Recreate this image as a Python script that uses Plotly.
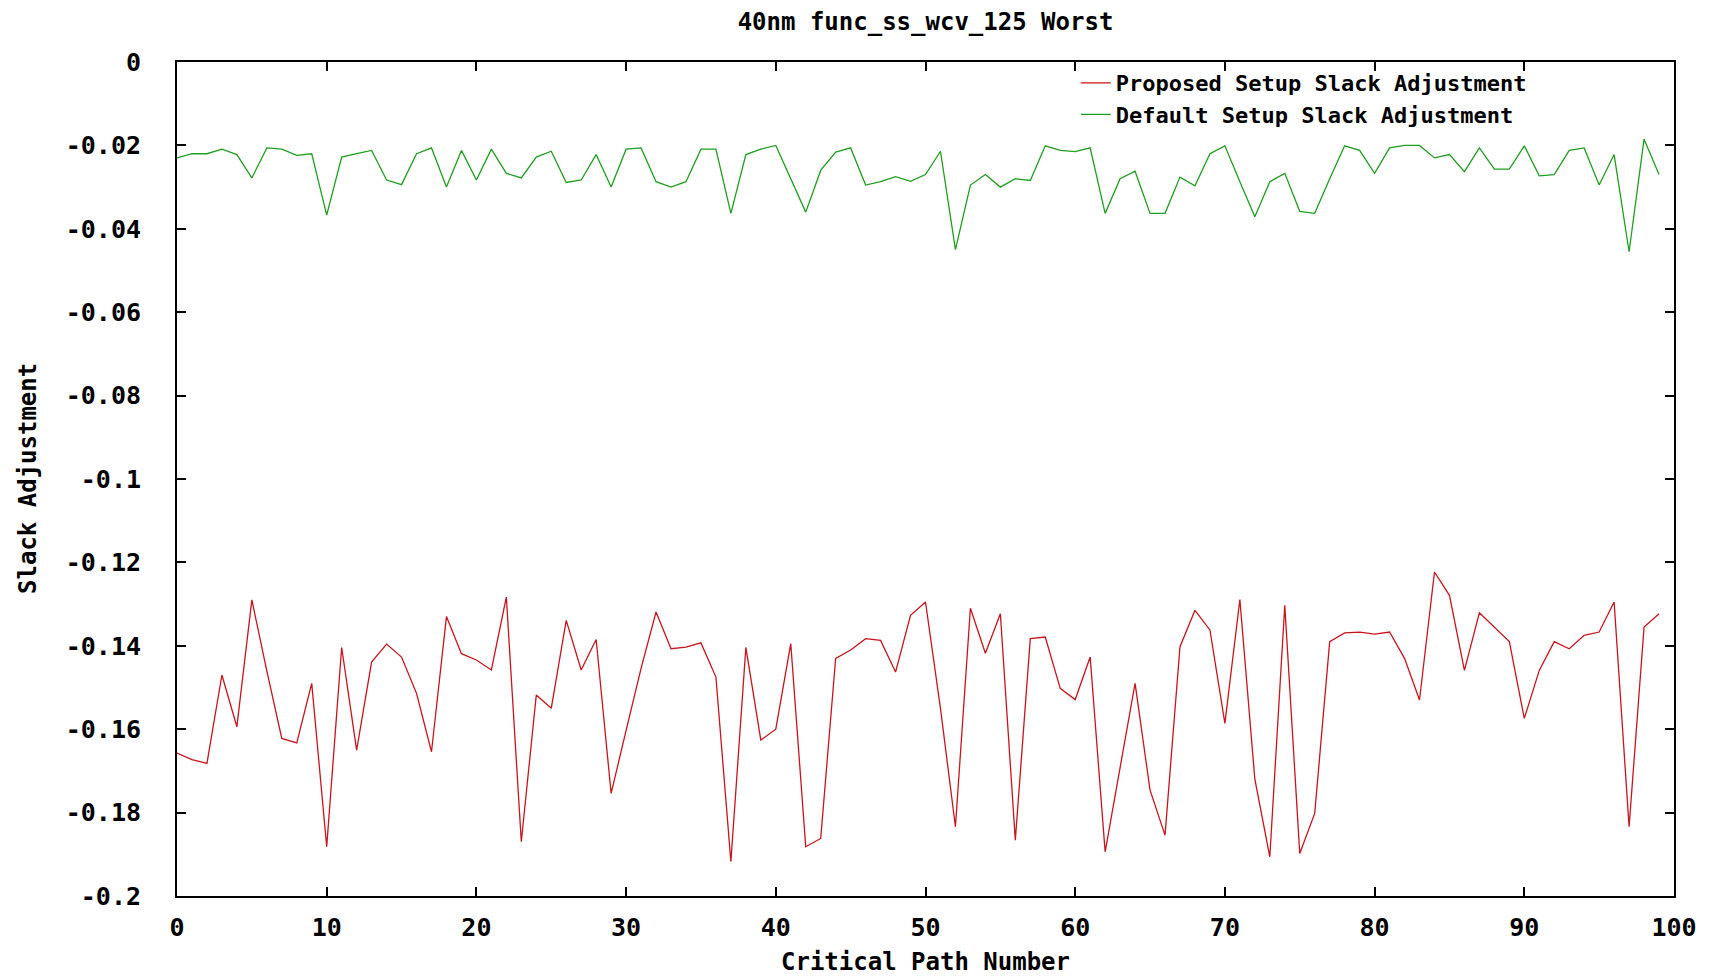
import plotly.graph_objects as go

# ---- data ----
path_number = list(range(100))

proposed = [
    -0.1657, -0.1673, -0.1682, -0.1470, -0.1594, -0.1290, -0.1460, -0.1622, -0.1633, -0.1490,
    -0.1882, -0.1404, -0.1650, -0.1439, -0.1396, -0.1427, -0.1514, -0.1654, -0.1330, -0.1419,
    -0.1434, -0.1458, -0.1283, -0.1870, -0.1518, -0.1550, -0.1339, -0.1458, -0.1385, -0.1754,
    -0.1603, -0.1454, -0.1319, -0.1407, -0.1403, -0.1393, -0.1475, -0.1918, -0.1404, -0.1626,
    -0.1600, -0.1395, -0.1882, -0.1862, -0.1430, -0.1410, -0.1383, -0.1387, -0.1463, -0.1327,
    -0.1295, -0.1550, -0.1834, -0.1310, -0.1418, -0.1323, -0.1866, -0.1383, -0.1379, -0.1502,
    -0.1529, -0.1427, -0.1894, -0.1690, -0.1490, -0.1746, -0.1854, -0.1402, -0.1315, -0.1362,
    -0.1586, -0.1289, -0.1720, -0.1906, -0.1303, -0.1898, -0.1802, -0.1390, -0.1369, -0.1367,
    -0.1372, -0.1367, -0.1430, -0.1530, -0.1223, -0.1279, -0.1459, -0.1321, -0.1355, -0.1390,
    -0.1574, -0.1459, -0.1390, -0.1407, -0.1375, -0.1367, -0.1295, -0.1834, -0.1355, -0.1323,
]

default = [
    -0.0230, -0.0220, -0.0220, -0.0209, -0.0222, -0.0278, -0.0206, -0.0209, -0.0224, -0.0220,
    -0.0367, -0.0228, -0.0220, -0.0212, -0.0283, -0.0294, -0.0220, -0.0206, -0.0300, -0.0212,
    -0.0283, -0.0209, -0.0267, -0.0278, -0.0228, -0.0214, -0.0289, -0.0283, -0.0222, -0.0300,
    -0.0209, -0.0206, -0.0287, -0.0300, -0.0287, -0.0209, -0.0209, -0.0363, -0.0222, -0.0209,
    -0.0200, -0.0280, -0.0360, -0.0260, -0.0216, -0.0206, -0.0295, -0.0287, -0.0275, -0.0286,
    -0.0270, -0.0214, -0.0450, -0.0295, -0.0270, -0.0300, -0.0280, -0.0284, -0.0201, -0.0212,
    -0.0215, -0.0206, -0.0363, -0.0280, -0.0262, -0.0363, -0.0363, -0.0276, -0.0297, -0.0220,
    -0.0201, -0.0287, -0.0371, -0.0287, -0.0267, -0.0358, -0.0363, -0.0280, -0.0201, -0.0212,
    -0.0267, -0.0206, -0.0200, -0.0200, -0.0230, -0.0222, -0.0263, -0.0206, -0.0257, -0.0257,
    -0.0201, -0.0273, -0.0270, -0.0212, -0.0206, -0.0295, -0.0222, -0.0455, -0.0185, -0.0270,
]

x_ticks = [0, 10, 20, 30, 40, 50, 60, 70, 80, 90, 100]
y_ticks = [0, -0.02, -0.04, -0.06, -0.08, -0.1, -0.12, -0.14, -0.16, -0.18, -0.2]
y_tick_labels = ["0", "-0.02", "-0.04", "-0.06", "-0.08", "-0.1",
                 "-0.12", "-0.14", "-0.16", "-0.18", "-0.2"]

title_text = "40nm func_ss_wcv_125 Worst"
x_title = "Critical Path Number"
y_title = "Slack Adjustment"
name_proposed = "Proposed Setup Slack Adjustment"
name_default = "Default Setup Slack Adjustment"

# ---- figure (page body has an 8px margin, so the figure is sized to fit) ----
W, H = 1714, 970
ML, MR, MT, MB = 169, 48, 54, 82
font = dict(family="DejaVu Sans Mono", size=25, color="black", weight="bold")
title_font = dict(family="DejaVu Sans Mono", size=24, color="black", weight="bold")
legend_font = dict(family="DejaVu Sans Mono", size=22, color="black", weight="bold")

fig = go.Figure()
fig.add_trace(go.Scatter(x=path_number, y=proposed, mode="lines", name=name_proposed,
                         line=dict(color="#c8141c", width=1.3)))
fig.add_trace(go.Scatter(x=path_number, y=default, mode="lines", name=name_default,
                         line=dict(color="#1f9e1f", width=1.3)))

fig.update_layout(
    width=W, height=H,
    margin=dict(l=ML, r=MR, t=MT, b=MB),
    paper_bgcolor="white", plot_bgcolor="white",
    font=font,
    title=dict(text=title_text, x=0.5, xref="paper", xanchor="center",
               y=1 - 14 / H, yref="container", yanchor="middle", font=title_font),
    showlegend=True,
    legend=dict(x=0.905, xanchor="right", y=1.0, yanchor="top",
                bgcolor="rgba(0,0,0,0)", font=legend_font),
    annotations=[
        dict(text=x_title, xref="paper", yref="paper", x=0.5, y=0,
             xanchor="center", yanchor="middle", yshift=-66, showarrow=False,
             font=title_font),
        dict(text=y_title, xref="paper", yref="paper", x=0, y=0.5,
             xanchor="center", yanchor="middle", xshift=-149, textangle=-90,
             showarrow=False, font=title_font),
    ],
)

axis_common = dict(ticks="inside", ticklen=9, tickwidth=1.5, tickcolor="black",
                   showline=True, linecolor="black", linewidth=2, mirror="allticks",
                   showgrid=False, zeroline=False, tickfont=font)
fig.update_xaxes(range=[0, 100], tickvals=x_ticks, ticklabelstandoff=8, **axis_common)
fig.update_yaxes(range=[-0.2, 0], tickvals=y_ticks, ticktext=y_tick_labels,
                 ticklabelstandoff=29, **axis_common)

fig.write_html("out.html")
